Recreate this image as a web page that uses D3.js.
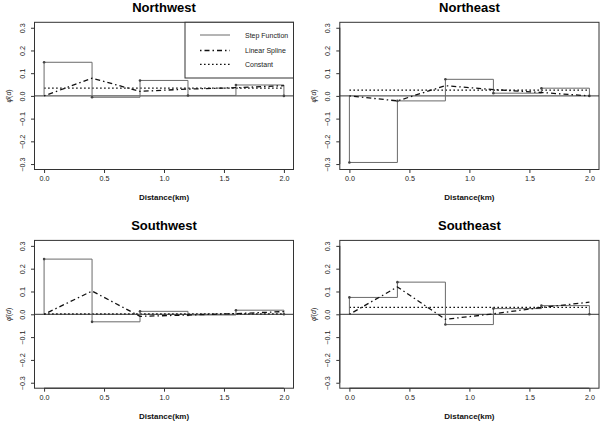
<!DOCTYPE html>
<html>
<head>
<meta charset="utf-8">
<script src="https://cdn.jsdelivr.net/npm/d3@7"></script>
<style>
  html, body { margin: 0; padding: 0; background: #fff; }
  svg { display: block; font-family: "Liberation Sans", Arial, sans-serif; }
</style>
</head>
<body>
<svg id="chart" width="603" height="424"></svg>
<script>
// ---- data ----
const regions = ["Northwest", "Northeast", "Southwest", "Southeast"];
const knots = [0, 0.4, 0.8, 1.2, 1.6, 2.0];
const xTicks = [0, 0.5, 1.0, 1.5, 2.0];
const yTicks = [-0.3, -0.2, -0.1, 0, 0.1, 0.2, 0.3];
const legendLabels = ["Step Function", "Linear Spline", "Constant"];

// step function value on each interval [knot_i, knot_i+1)
const stepNW = [0.148, -0.006, 0.068, 0.002, 0.048];
const stepNE = [-0.293, -0.022, 0.073, 0.012, 0.034];
const stepSW = [0.242, -0.033, 0.013, -0.003, 0.018];
const stepSE = [0.074, 0.141, -0.045, 0.025, 0.038];

// linear spline values at knots
const splineNW = [0, 0.078, 0.020, 0.030, 0.036, 0.045];
const splineNE = [0, -0.022, 0.045, 0.028, 0.015, 0.000];
const splineSW = [0, 0.102, -0.009, -0.003, 0.003, 0.012];
const splineSE = [0, 0.120, -0.022, 0.002, 0.030, 0.053];

// constant fits
const constNW = 0.034;
const constNE = 0.025;
const constSW = 0.002;
const constSE = 0.030;

const steps = [stepNW, stepNE, stepSW, stepSE];
const splines = [splineNW, splineNE, splineSW, splineSE];
const consts = [constNW, constNE, constSW, constSE];

// ---- layout ----
const panelBoxes = [
  {x0: 34.5, x1: 293.5, y0: 22.3, y1: 169.5},
  {x0: 339.8, x1: 599, y0: 22.3, y1: 169.5},
  {x0: 34.5, x1: 293.5, y0: 240.4, y1: 388.2},
  {x0: 339.8, x1: 599, y0: 240.4, y1: 388.2}
];

const svg = d3.select("#chart");
const stepColor = "#6a6a6a";
const dark = "#333";
const splineDash = "1.5 3 5 3";
const constDash = "1.6 2.4";

regions.forEach((name, i) => {
  const b = panelBoxes[i];
  const x = d3.scaleLinear().domain([-0.08, 2.08]).range([b.x0, b.x1]);
  const y = d3.scaleLinear().domain([-0.324, 0.324]).range([b.y1, b.y0]);
  const g = svg.append("g");

  // zero line
  g.append("line")
    .attr("x1", b.x0).attr("x2", b.x1)
    .attr("y1", y(0)).attr("y2", y(0))
    .attr("stroke", dark).attr("stroke-width", 1);

  // constant
  g.append("line")
    .attr("x1", x(0)).attr("x2", x(2))
    .attr("y1", y(consts[i])).attr("y2", y(consts[i]))
    .attr("stroke", "#111").attr("stroke-width", 1.3)
    .attr("stroke-dasharray", constDash);

  // step function path
  const st = steps[i];
  const stepPts = [[knots[0], 0]];
  st.forEach((v, k) => {
    stepPts.push([knots[k], v]);
    stepPts.push([knots[k + 1], v]);
  });
  stepPts.push([knots[knots.length - 1], 0]);
  g.append("path")
    .attr("d", d3.line().x(d => x(d[0])).y(d => y(d[1]))(stepPts))
    .attr("fill", "none").attr("stroke", stepColor).attr("stroke-width", 1);

  // step points
  const dotPts = st.map((v, k) => [knots[k], v]);
  dotPts.push([knots[knots.length - 1], 0]);
  g.selectAll("circle.pt").data(dotPts).enter().append("circle")
    .attr("cx", d => x(d[0])).attr("cy", d => y(d[1]))
    .attr("r", 1.3).attr("fill", "#444");

  // linear spline
  const sp = splines[i];
  g.append("path")
    .attr("d", d3.line().x((d, k) => x(knots[k])).y(d => y(d))(sp))
    .attr("fill", "none").attr("stroke", "#111").attr("stroke-width", 1.3)
    .attr("stroke-dasharray", splineDash);

  // box
  g.append("rect")
    .attr("x", b.x0).attr("y", b.y0)
    .attr("width", b.x1 - b.x0).attr("height", b.y1 - b.y0)
    .attr("fill", "none").attr("stroke", dark).attr("stroke-width", 1);

  // x axis
  const xa = g.append("g").attr("transform", `translate(0,${b.y1})`)
    .call(d3.axisBottom(x).tickValues(xTicks).tickFormat(d3.format(".1f")).tickSize(3.5).tickPadding(3));
  xa.select(".domain").attr("stroke", dark).attr("d", `M${x(0)},0H${x(2)}`);
  xa.selectAll(".tick line").attr("stroke", dark);
  xa.selectAll("text").attr("font-size", 7.2).attr("fill", "#222")
    .attr("font-family", "Liberation Sans, Arial, sans-serif");

  // y axis
  const ya = g.append("g").attr("transform", `translate(${b.x0},0)`)
    .call(d3.axisLeft(y).tickValues(yTicks).tickFormat(d3.format(".1f")).tickSize(3.5).tickPadding(3));
  ya.select(".domain").attr("stroke", dark).attr("d", `M0,${y(-0.3)}V${y(0.3)}`);
  ya.selectAll(".tick line").attr("stroke", dark);
  ya.selectAll("text")
    .attr("font-size", 7.2).attr("fill", "#222")
    .attr("font-family", "Liberation Sans, Arial, sans-serif")
    .attr("text-anchor", "middle")
    .attr("x", null).attr("dy", null)
    .attr("transform", "translate(-10,0) rotate(-90)");

  // title
  const cx = (b.x0 + b.x1) / 2;
  g.append("text")
    .attr("x", cx).attr("y", b.y0 - 10.5)
    .attr("text-anchor", "middle").attr("font-weight", "bold")
    .attr("font-size", 13).attr("fill", "#000").text(name);

  // x label
  g.append("text")
    .attr("x", cx).attr("y", b.y1 + 30.5)
    .attr("text-anchor", "middle").attr("font-weight", "bold")
    .attr("font-size", 8).attr("fill", "#111").text("Distance(km)");

  // y label
  const yl = g.append("text")
    .attr("transform", `translate(${b.x0 - 24},${y(0)}) rotate(-90)`)
    .attr("text-anchor", "middle")
    .attr("font-size", 7).attr("fill", "#222");
  yl.append("tspan").attr("font-style", "italic").text("\u03C6\u0302");
  yl.append("tspan").text("(");
  yl.append("tspan").attr("font-style", "italic").text("d");
  yl.append("tspan").text(")");
});

// legend (Northwest panel)
{
  const b = panelBoxes[0];
  const lx0 = 185, ly0 = b.y0, lx1 = b.x1, ly1 = 78;
  const lg = svg.append("g");
  lg.append("rect").attr("x", lx0).attr("y", ly0)
    .attr("width", lx1 - lx0).attr("height", ly1 - ly0)
    .attr("fill", "#fff").attr("stroke", dark).attr("stroke-width", 1);
  const rowsY = [35, 50.5, 64.3];
  const styles = [
    {stroke: stepColor, dash: null, w: 1},
    {stroke: "#111", dash: splineDash, w: 1.3},
    {stroke: "#111", dash: constDash, w: 1.3}
  ];
  legendLabels.forEach((lab, k) => {
    lg.append("line").attr("x1", 200).attr("x2", 230)
      .attr("y1", rowsY[k]).attr("y2", rowsY[k])
      .attr("stroke", styles[k].stroke).attr("stroke-width", styles[k].w)
      .attr("stroke-dasharray", styles[k].dash);
    lg.append("text").attr("x", 245).attr("y", rowsY[k] + 2.5)
      .attr("font-size", 7).attr("fill", "#222").text(lab);
  });
}
</script>
</body>
</html>
